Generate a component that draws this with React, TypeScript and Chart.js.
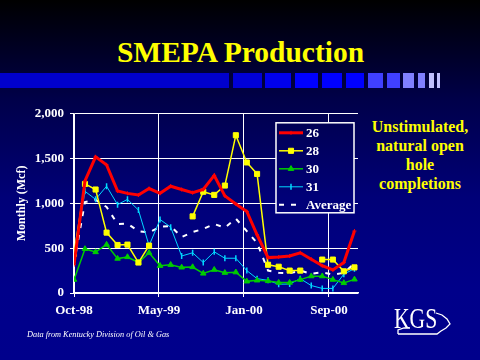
import React, { useEffect, useRef } from "react";
import { Chart, registerables } from "chart.js";
import { drawPoint } from "chart.js/helpers";

Chart.register(...registerables);

// ---------- data ----------
const months = [
  "1998-10", "1998-11", "1998-12",
  "1999-01", "1999-02", "1999-03", "1999-04", "1999-05", "1999-06",
  "1999-07", "1999-08", "1999-09", "1999-10", "1999-11", "1999-12",
  "2000-01", "2000-02", "2000-03", "2000-04", "2000-05", "2000-06",
  "2000-07", "2000-08", "2000-09", "2000-10", "2000-11", "2000-12",
];
const seriesLabels = ["26", "28", "30", "31", "Average"];
const well26 = [315, 1250, 1519, 1430, 1138, 1112, 1094, 1166, 1112, 1192, 1155, 1120, 1155, 1312, 1084, 993, 910, 650, 395, 402, 413, 449, 377, 304, 258, 340, 692];
const well28 = [438, 1217, 1155, 674, 536, 540, 340, 529, null, null, null, 855, 1130, 1095, 1199, 1761, 1457, 1329, 315, 293, 250, 250, null, 373, 373, 242, 286];
const well30 = [149, 492, 457, 540, 384, 402, 340, 449, 304, 315, 286, 290, 218, 260, 226, 232, 130, 141, 134, 116, 116, 149, 188, 188, 149, 112, 152];
const well31 = [400, 1135, 1045, 1192, 986, 1045, 925, 529, 820, 735, 413, 449, 340, 460, 388, 388, 250, 160, 141, 98, 100, 160, 83, 51, 51, 210, 272];
const average = [330, 1015, 1040, 960, 770, 775, 690, 675, 740, 745, 625, 680, 715, 770, 730, 830, 690, 560, 250, 225, 220, 250, 215, 230, 205, 225, 330];
const xTickLabels = ["Oct-98", "May-99", "Jan-00", "Sep-00"];
const yTickLabels = ["0", "500", "1,000", "1,500", "2,000"];

const SERIF = '"Liberation Serif", "DejaVu Serif", serif';
const BG_STOPS: [number, string][] = [
  [0, "#000000"],
  [0.28, "#00004a"],
  [0.55, "#000078"],
  [0.8, "#00008a"],
  [1, "#00008c"],
];
const CANVAS_TOP = 100;

const origin = Date.UTC(1998, 9, 1);
const dayOf = (m: string) => {
  const [y, mo] = m.split("-").map(Number);
  return (Date.UTC(y, mo - 1, 1) - origin) / 86400000;
};
const xDays = months.map(dayOf);
const pts = (arr: (number | null)[]) => arr.map((v, i) => ({ x: xDays[i], y: v }));

const legendBoxPlugin = {
  id: "legendBox",
  afterDatasetsDraw(chart: any) {
    const { ctx, chartArea } = chart;
    const x0 = chartArea.right - 82;
    const y0 = chartArea.top + 9;
    const w = 78;
    const h = 90;
    ctx.save();
    const g = ctx.createLinearGradient(0, -CANVAS_TOP, 0, 360 - CANVAS_TOP);
    BG_STOPS.forEach(([p, c]) => g.addColorStop(p, c));
    ctx.fillStyle = g;
    ctx.fillRect(x0, y0, w, h);
    ctx.strokeStyle = "#ffffff";
    ctx.lineWidth = 1.5;
    ctx.strokeRect(x0, y0, w, h);
    chart.data.datasets.forEach((ds: any, i: number) => {
      const cy = y0 + 10 + i * 18;
      ctx.save();
      ctx.strokeStyle = ds.borderColor;
      ctx.lineWidth = ds.borderWidth;
      ctx.setLineDash(ds.borderDash || []);
      ctx.beginPath();
      ctx.moveTo(x0 + 3, cy);
      ctx.lineTo(x0 + 27, cy);
      ctx.stroke();
      ctx.setLineDash([]);
      if (ds.pointRadius > 0) {
        ctx.fillStyle = ds.pointBackgroundColor;
        ctx.strokeStyle = ds.pointBorderColor;
        ctx.lineWidth = ds.pointBorderWidth;
        drawPoint(ctx, { pointStyle: ds.pointStyle, radius: ds.pointRadius, rotation: ds.pointRotation || 0, borderWidth: ds.pointBorderWidth }, x0 + 15, cy);
      }
      ctx.restore();
      ctx.fillStyle = "#ffffff";
      ctx.font = `bold 13px ${SERIF}`;
      ctx.textBaseline = "middle";
      ctx.textAlign = "left";
      ctx.fillText(ds.label, x0 + 30, cy + 1);
    });
    ctx.restore();
  },
};

const segs: [number, number, string][] = [
  [0, 229, "#0000cc"],
  [233, 262, "#0000d8"],
  [265, 291, "#0000ee"],
  [295, 318, "#0000ff"],
  [322, 342, "#0000ff"],
  [346, 364, "#0000ff"],
  [368, 383, "#4040ff"],
  [387, 400, "#4040ff"],
  [403, 414, "#8080ff"],
  [418, 425, "#8080ff"],
  [429, 434, "#c0c0ff"],
  [437, 440, "#c0c0ff"],
];

export default function App() {
  const ref = useRef<HTMLCanvasElement>(null);
  useEffect(() => {
    document.body.style.margin = "0";
    const canvas = ref.current!;
    const chart = new Chart(canvas, {
      type: "line",
      data: {
        datasets: [
          {
            label: seriesLabels[0],
            data: pts(well26),
            borderColor: "#ff0000",
            borderWidth: 3,
            pointStyle: "cross",
            pointRadius: 2,
            pointBorderWidth: 1,
            pointBorderColor: "#ff0000",
            pointBackgroundColor: "#ff0000",
          },
          {
            label: seriesLabels[1],
            data: pts(well28),
            borderColor: "#ffff00",
            borderWidth: 1.5,
            pointStyle: "rect",
            pointRadius: 3.6,
            pointBorderWidth: 1,
            pointBorderColor: "#ffff00",
            pointBackgroundColor: "#ffff00",
          },
          {
            label: seriesLabels[2],
            data: pts(well30),
            borderColor: "#00cc00",
            borderWidth: 1.5,
            pointStyle: "triangle",
            pointRadius: 3.2,
            pointBorderWidth: 1,
            pointBorderColor: "#00cc00",
            pointBackgroundColor: "#00cc00",
          },
          {
            label: seriesLabels[3],
            data: pts(well31),
            borderColor: "#00d8ff",
            borderWidth: 1,
            pointStyle: "line",
            pointRotation: 90,
            pointRadius: 3,
            pointBorderWidth: 1.5,
            pointBorderColor: "#00d8ff",
            pointBackgroundColor: "#00d8ff",
          },
          {
            label: seriesLabels[4],
            data: pts(average),
            borderColor: "#ffffff",
            borderWidth: 2,
            borderDash: [5, 7],
            pointRadius: 0,
            pointBorderWidth: 0,
          },
        ] as any,
      },
      options: {
        responsive: false,
        animation: false,
        devicePixelRatio: 1,
        layout: { padding: { left: 0, right: 12, top: 9, bottom: 0 } },
        plugins: { legend: { display: false }, tooltip: { enabled: false } },
        scales: {
          x: {
            type: "linear",
            min: 0,
            max: 802,
            afterFit: (s: any) => {
              s.height = 47;
            },
            ticks: {
              stepSize: 240,
              includeBounds: false,
              autoSkip: false,
              maxRotation: 0,
              padding: 6,
              color: "#ffffff",
              font: { family: SERIF, size: 13, weight: "bold" },
              callback: (_v: any, i: number) => xTickLabels[i] ?? "",
            },
            grid: { color: "#ffffff", lineWidth: 1, tickLength: 4 },
            border: { color: "#ffffff", width: 1.5 },
          },
          y: {
            min: 0,
            max: 2000,
            afterFit: (s: any) => {
              s.width = 74;
            },
            ticks: {
              stepSize: 500,
              padding: 6,
              color: "#ffffff",
              font: { family: SERIF, size: 13, weight: "bold" },
              callback: (_v: any, i: number) => yTickLabels[i] ?? "",
            },
            grid: { color: "#ffffff", lineWidth: 1, tickLength: 4 },
            border: { color: "#ffffff", width: 1.5 },
            title: {
              display: true,
              text: "Monthly (Mcf)",
              color: "#ffffff",
              font: { family: SERIF, size: 12, weight: "bold" },
              padding: { top: 15, bottom: 0 },
            },
          },
        },
      } as any,
      plugins: [legendBoxPlugin],
    });
    return () => chart.destroy();
  }, []);

  const bg = `linear-gradient(to bottom, ${BG_STOPS.map(([p, c]) => `${c} ${p * 100}%`).join(", ")})`;

  return (
    <div
      style={{
        position: "fixed",
        left: 0,
        top: 0,
        width: 480,
        height: 360,
        background: bg,
        overflow: "hidden",
        fontFamily: SERIF,
      }}
    >
      <div
        style={{
          position: "absolute",
          left: 0,
          width: 481,
          top: 38,
          textAlign: "center",
          color: "#ffff00",
          fontWeight: "bold",
          fontSize: 29.5,
          lineHeight: "29.5px",
          whiteSpace: "nowrap",
        }}
      >
        SMEPA Production
      </div>
      {segs.map(([a, b, c], i) => (
        <div key={i} style={{ position: "absolute", left: a, width: b - a, top: 73, height: 15, background: c }} />
      ))}
      <div
        style={{
          position: "absolute",
          left: 360,
          width: 120,
          top: 117,
          textAlign: "center",
          color: "#ffff00",
          fontWeight: "bold",
          fontSize: 16,
          lineHeight: "19px",
        }}
      >
        Unstimulated,
        <br />
        natural open
        <br />
        hole
        <br />
        completions
      </div>
      <canvas
        ref={ref}
        width={370}
        height={240}
        style={{ position: "absolute", left: 0, top: CANVAS_TOP, width: 370, height: 240 }}
      />
      <div
        style={{
          position: "absolute",
          left: 27,
          top: 330,
          color: "#ffffff",
          fontStyle: "italic",
          fontSize: 8.3,
          lineHeight: "9px",
          whiteSpace: "nowrap",
        }}
      >
        Data from Kentucky Division of Oil &amp; Gas
      </div>
      <svg style={{ position: "absolute", left: 0, top: 0 }} width={480} height={360}>
        <polyline
          points="398,334 437,334 441,331 446,328 450,324 447,319 442,315 436,313"
          fill="none"
          stroke="#ffffff"
          strokeWidth={1.3}
        />
        <polyline points="398,334 398,330 404,328 410,328" fill="none" stroke="#ffffff" strokeWidth={1.3} />
      </svg>
      <div
        style={{
          position: "absolute",
          left: 394,
          top: 303,
          color: "#ffffff",
          fontSize: 30,
          lineHeight: "30px",
          transform: "scaleX(0.72)",
          transformOrigin: "left top",
          whiteSpace: "nowrap",
        }}
      >
        KGS
      </div>
    </div>
  );
}
